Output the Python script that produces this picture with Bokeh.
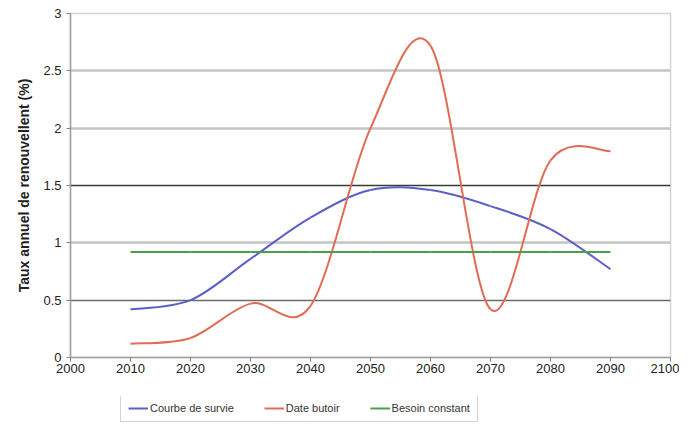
from bokeh.plotting import figure
from bokeh.layouts import column
from bokeh.models import (FixedTicker, Grid, Legend, LegendItem, ColumnDataSource,
                          Range1d)
from bokeh.embed import file_html
from bokeh.resources import INLINE

years = [2010, 2020, 2030, 2040, 2050, 2060, 2070, 2080, 2090]
survie = [0.42, 0.50, 0.86, 1.22, 1.46, 1.46, 1.32, 1.12, 0.77]
butoir = [0.12, 0.17, 0.47, 0.45, 2.00, 2.72, 0.42, 1.72, 1.80]
constant = [0.92, 0.92, 0.92, 0.92, 0.92, 0.92, 0.92, 0.92, 0.92]
x_ticks = list(range(2000, 2101, 10))
y_ticks = [0, 0.5, 1, 1.5, 2, 2.5, 3]
labels = ["Courbe de survie", "Date butoir", "Besoin constant"]
colors = ["#5b5fc7", "#e06c55", "#4aa04a"]

FONT = "Liberation Sans"

p = figure(width=679, height=396, output_backend="svg", toolbar_location=None,
           x_range=Range1d(2000, 2100), y_range=Range1d(0, 3),
           min_border_left=70, min_border_right=9, min_border_top=13,
           min_border_bottom=39)
p.grid.visible = False
p.outline_line_color = "#d4d4d4"
p.outline_line_width = 1.5

# grid lines (Excel-like, varying shade)
for ticks, col, w in [([3], "#e2e2e2", 2), ([1, 2, 2.5], "#c4c4c4", 2.5),
                      ([0.5], "#6a6a6a", 1.5), ([1.5], "#3a3a3a", 1.5)]:
    g = Grid(dimension=1, ticker=FixedTicker(ticks=ticks), grid_line_color=col,
             grid_line_width=w)
    p.add_layout(g, "center")


def smooth(xs, ys):
    n = len(xs)
    x0, y0, x1, y1, cx0, cy0, cx1, cy1 = ([] for _ in range(8))
    for i in range(n - 1):
        im = max(i - 1, 0)
        ip = min(i + 2, n - 1)
        x0.append(xs[i]); y0.append(ys[i]); x1.append(xs[i + 1]); y1.append(ys[i + 1])
        cx0.append(xs[i] + (xs[i + 1] - xs[im]) / 6)
        cy0.append(ys[i] + (ys[i + 1] - ys[im]) / 6)
        cx1.append(xs[i + 1] - (xs[ip] - xs[i]) / 6)
        cy1.append(ys[i + 1] - (ys[ip] - ys[i]) / 6)
    return dict(x0=x0, y0=y0, x1=x1, y1=y1, cx0=cx0, cy0=cy0, cx1=cx1, cy1=cy1)


# legend strip: an axis-less figure with the same borders as the chart
pl = figure(width=679, height=26, output_backend="svg", toolbar_location=None,
            x_range=Range1d(0, 1), y_range=Range1d(0, 1),
            min_border_left=70, min_border_right=9, min_border_top=0,
            min_border_bottom=0)
pl.axis.visible = False
pl.grid.visible = False
pl.outline_line_color = None

items = []
for ys, lab, col in zip([survie, butoir, constant], labels, colors):
    src = ColumnDataSource(smooth(years, ys))
    p.bezier(x0="x0", y0="y0", x1="x1", y1="y1", cx0="cx0", cy0="cy0",
             cx1="cx1", cy1="cy1", source=src, line_color=col, line_width=2)
    # legend proxy: same data, outside this strip's ranges, so only the key shows
    proxy = pl.line(x="x0", y="y0", source=src, line_color=col, line_width=2)
    items.append(LegendItem(label=lab, renderers=[proxy]))

legend = Legend(items=items, orientation="horizontal", location=(50, 0),
                label_text_font=FONT, label_text_font_size="11px",
                label_text_color="#333333", glyph_width=20, glyph_height=12,
                label_height=12, spacing=30, padding=7, margin=0,
                border_line_color="#a8a8a8", border_line_width=1.5,
                background_fill_alpha=0, label_standoff=2)
pl.add_layout(legend, "center")

p.xaxis.ticker = FixedTicker(ticks=x_ticks)
p.yaxis.ticker = FixedTicker(ticks=y_ticks)
p.yaxis.formatter.use_scientific = False
for ax in (p.xaxis, p.yaxis):
    ax.axis_line_color = "#a0a0a0"
    ax.axis_line_width = 1.5
    ax.major_tick_line_color = "#808080"
    ax.major_tick_in = 0
    ax.major_tick_out = 4
    ax.minor_tick_line_color = None
    ax.major_label_text_font = FONT
    ax.major_label_text_font_size = "13px"
    ax.major_label_text_color = "#222222"
p.xaxis.major_label_standoff = 2
p.yaxis.major_label_standoff = 5
p.yaxis.axis_label = "Taux annuel de renouvellent (%)"
p.yaxis.axis_label_text_font = FONT
p.yaxis.axis_label_text_font_style = "bold"
p.yaxis.axis_label_text_font_size = "14px"
p.yaxis.axis_label_text_color = "#222222"
p.yaxis.axis_label_standoff = 8

open("out.html", "w").write(file_html(column(p, pl, spacing=0), INLINE))
